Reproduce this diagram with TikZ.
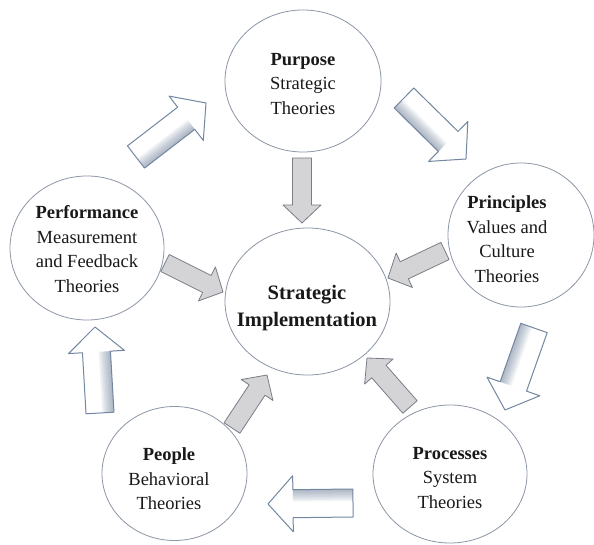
\documentclass[tikz,border=0pt]{standalone}
\usepackage{fontspec}
\setmainfont{Liberation Serif}
\usetikzlibrary{calc,shapes.geometric}
\definecolor{ringcol}{RGB}{140,150,165}
\definecolor{txtcol}{RGB}{25,25,25}
\definecolor{hollowedge}{RGB}{115,135,160}
\definecolor{hollowshade}{RGB}{90,110,140}
\definecolor{grayfill}{RGB}{212,212,215}
\definecolor{grayedge}{RGB}{120,125,135}

\newcommand\arrowcorners[5]{%
  \coordinate (#1-hb) at ($(#2)!#5!(#1)$);
  \coordinate (#1-p1) at ($(#1)!#3!90:(#2)$);
  \coordinate (#1-p2) at ($(#1-hb)!#3!90:(#2)$);
  \coordinate (#1-p3) at ($(#1-hb)!#4!90:(#2)$);
  \coordinate (#1-p4) at ($(#1-hb)!#4!-90:(#2)$);
  \coordinate (#1-p5) at ($(#1-hb)!#3!-90:(#2)$);
  \coordinate (#1-p6) at ($(#1)!#3!-90:(#2)$);
}
\newcommand\arrowoutline[2]{(#1-p1) -- (#1-p2) -- (#1-p3) -- (#2) -- (#1-p4) -- (#1-p5) -- (#1-p6) -- cycle}
\newcommand\hollowarrow[2]{%
  \arrowcorners{#1}{#2}{14pt}{28pt}{25pt}
  \fill[white] \arrowoutline{#1}{#2};
  \begin{scope}
    \clip \arrowoutline{#1}{#2};
    \foreach \w in {24,21,18,15,12,9,6,3}
      \draw[hollowshade, opacity=.075, line width=\w pt] (#1-p6) -- (#1-p5);
  \end{scope}
  \draw[hollowedge, line width=1pt, line join=round] \arrowoutline{#1}{#2};
}
\newcommand\grayarrow[2]{%
  \arrowcorners{#1}{#2}{9.5pt}{19pt}{18pt}
  \draw[grayedge, fill=grayfill, line width=.8pt, line join=round] \arrowoutline{#1}{#2};
}

\tikzset{
  ring/.style={draw=ringcol, line width=.8pt, ellipse, inner sep=0pt, fill=white},
  ringtext/.style={align=center, text=txtcol, inner sep=0pt,
    font=\fontsize{18.5}{24.5}\selectfont},
}

\begin{document}
\begin{tikzpicture}[x=1pt,y=-1pt]
\useasboundingbox (0,0) rectangle (594,545);
\fill[white] (0,0) rectangle (594,545);

% rings
\node[ring, minimum width=156pt, minimum height=142pt] (purpose) at (303,81) {};
\node[ring, minimum width=154pt, minimum height=144pt] (performance) at (87,248) {};
\node[ring, minimum width=146pt, minimum height=144pt] (principles) at (521,235) {};
\node[ring, minimum width=165pt, minimum height=147pt] (center) at (307.5,301.5) {};
\node[ring, minimum width=145pt, minimum height=134pt] (people) at (174.5,473.5) {};
\node[ring, minimum width=154pt, minimum height=138pt] (processes) at (450,474) {};

% texts
\node[ringtext] (purposeT) at (303,84) {\textbf{Purpose}\\Strategic\\Theories};
\node[ringtext] (performanceT) at (87,249) {\textbf{Performance}\\Measurement\\and Feedback\\Theories};
\node[ringtext] (principlesT) at (507,239) {\textbf{Principles}\\Values and\\Culture\\Theories};
\node[ringtext, font=\fontsize{20.5}{27}\selectfont\bfseries] (centerT) at (307,308) {Strategic\\Implementation};
\node[ringtext] (peopleT) at (169,479) {\textbf{People}\\Behavioral\\Theories};
\node[ringtext] (processesT) at (450,478) {\textbf{Processes}\\System\\Theories};

% cycle arrow end points
\coordinate (c1t) at (136,157); \coordinate (c1h) at (206,103);
\coordinate (c2t) at (404,98);  \coordinate (c2h) at (466,159);
\coordinate (c3t) at (534,328); \coordinate (c3h) at (505,410);
\coordinate (c4t) at (353,503); \coordinate (c4h) at (268,504);
\coordinate (c5t) at (100,413); \coordinate (c5h) at (95,327);
\hollowarrow{c1t}{c1h}
\hollowarrow{c2t}{c2h}
\hollowarrow{c3t}{c3h}
\hollowarrow{c4t}{c4h}
\hollowarrow{c5t}{c5h}

% inward arrow end points
\coordinate (g1t) at (302,158); \coordinate (g1h) at (302,223);
\coordinate (g2t) at (165,263); \coordinate (g2h) at (223,292);
\coordinate (g3t) at (445,251); \coordinate (g3h) at (388,278);
\coordinate (g4t) at (410,407); \coordinate (g4h) at (367,358);
\coordinate (g5t) at (232,428); \coordinate (g5h) at (267,375);
\grayarrow{g1t}{g1h}
\grayarrow{g2t}{g2h}
\grayarrow{g3t}{g3h}
\grayarrow{g4t}{g4h}
\grayarrow{g5t}{g5h}
\end{tikzpicture}
\end{document}
